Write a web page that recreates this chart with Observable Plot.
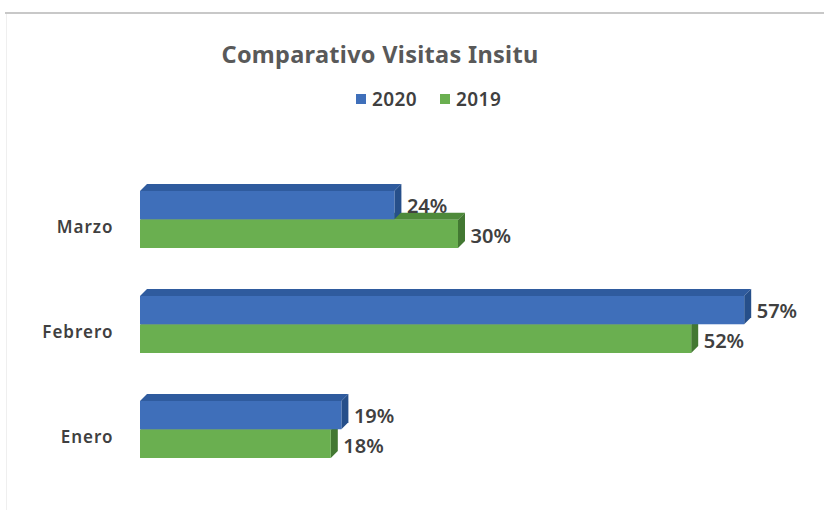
<!DOCTYPE html>
<html>
<head>
<meta charset="utf-8">
<script src="https://cdn.jsdelivr.net/npm/d3@7"></script>
<script src="https://cdn.jsdelivr.net/npm/@observablehq/plot@0.6"></script>
<style>
  html, body { margin: 0; padding: 0; background: #fff; }
  #wrap { position: relative; width: 824px; height: 510px; overflow: hidden; background: #fff; font-family: "Noto Sans", sans-serif; }
  #topline { position: absolute; left: 5px; top: 12px; width: 819px; height: 2px; background: #c8c8c8; }
  #leftline { position: absolute; left: 6px; top: 14px; width: 1px; height: 496px; background: #efefef; }
  #title { position: absolute; left: 0; width: 760px; top: 38px; text-align: center; font-size: 23.5px; font-weight: 700; color: #595959; letter-spacing: 0.3px; }
  #legend { position: absolute; left: 356px; top: 86px; font-size: 19px; font-weight: 600; color: #404040; display: flex; align-items: center; }
  #legend .sw { display: inline-block; width: 10px; height: 10px; margin-right: 6px; }
  #legend .item { display: flex; align-items: center; margin-right: 23px; letter-spacing: 0.4px; }
  #chart { position: absolute; left: 0; top: 130px; }
</style>
</head>
<body>
<div id="wrap">
  <div id="topline"></div>
  <div id="leftline"></div>
  <div id="title">Comparativo Visitas Insitu</div>
  <div id="legend"></div>
  <div id="chart"></div>
</div>
<script>
const months = ["Marzo", "Febrero", "Enero"];
const series = ["2020", "2019"];
const values2020 = [24, 57, 19];
const values2019 = [30, 52, 18];
const colors = { "2020": "#3F6FBA", "2019": "#6AAF50" };
const topColors = { "2020": "#2F5B9E", "2019": "#4E8A3A" };
const sideColors = { "2020": "#264F8A", "2019": "#437832" };

const legend = document.getElementById("legend");
for (const s of series) {
  const it = document.createElement("span");
  it.className = "item";
  it.innerHTML = `<span class="sw" style="background:${colors[s]}"></span>${s}`;
  legend.appendChild(it);
}

const data2020 = months.map((m, i) => ({ month: m, value: values2020[i] }));
const data2019 = months.map((m, i) => ({ month: m, value: values2019[i] }));

const W = 824, H = 380, mt = 12, mb = 3, ml = 140, mr = 48;
const pad = 0.456;
const step = (H - mt - mb) / (months.length + pad);
const bw = step * (1 - pad);
const half = bw / 2;
const D = 7;

function depth3d(s) {
  return (index, scales, values, dims, ctx, next) => {
    const g = next(index, scales, values, dims, ctx);
    const rects = Array.from(g.querySelectorAll("rect"));
    const ns = "http://www.w3.org/2000/svg";
    for (const r of rects) {
      const x = +r.getAttribute("x"), y = +r.getAttribute("y");
      const w = +r.getAttribute("width"), h = +r.getAttribute("height");
      const top = document.createElementNS(ns, "polygon");
      top.setAttribute("points", [[x, y], [x + w, y], [x + w + D, y - D], [x + D, y - D]].map(p => p.join(",")).join(" "));
      top.setAttribute("fill", topColors[s]);
      const side = document.createElementNS(ns, "polygon");
      side.setAttribute("points", [[x + w, y], [x + w, y + h], [x + w + D, y + h - D], [x + w + D, y - D]].map(p => p.join(",")).join(" "));
      side.setAttribute("fill", sideColors[s]);
      r.parentNode.insertBefore(top, r);
      r.parentNode.insertBefore(side, r);
    }
    return g;
  };
}

const chart = Plot.plot({
  width: W,
  height: H,
  marginTop: mt,
  marginBottom: mb,
  marginLeft: ml,
  marginRight: mr,
  style: { fontFamily: "'Noto Sans', sans-serif", fontSize: "16px", fontWeight: "600", color: "#404040", background: "transparent", overflow: "visible" },
  x: { domain: [0, 60], axis: null },
  y: { domain: months, padding: pad, axis: null },
  marks: [
    Plot.barX(data2019, { x: "value", y: "month", fill: colors["2019"], insetTop: half, render: depth3d("2019") }),
    Plot.barX(data2020, { x: "value", y: "month", fill: colors["2020"], insetBottom: half, render: depth3d("2020") }),
    Plot.text(data2020, { x: "value", y: "month", text: d => d.value + "%", dx: D + 5, dy: -bw / 4 + 1, textAnchor: "start", fill: "#404040", fontSize: 20, fontWeight: 600 }),
    Plot.text(data2019, { x: "value", y: "month", text: d => d.value + "%", dx: D + 5, dy: bw / 4 + 2, textAnchor: "start", fill: "#404040", fontSize: 20, fontWeight: 600 }),
    Plot.text(months, { y: d => d, text: d => d, frameAnchor: "left", dx: -27, dy: 8, textAnchor: "end", fill: "#404040", fontSize: 17, fontWeight: 600 })
  ]
});
chart.querySelectorAll("text").forEach(t => { if (months.includes(t.textContent)) t.style.letterSpacing = "1px"; });
document.getElementById("chart").appendChild(chart);
</script>
</body>
</html>
